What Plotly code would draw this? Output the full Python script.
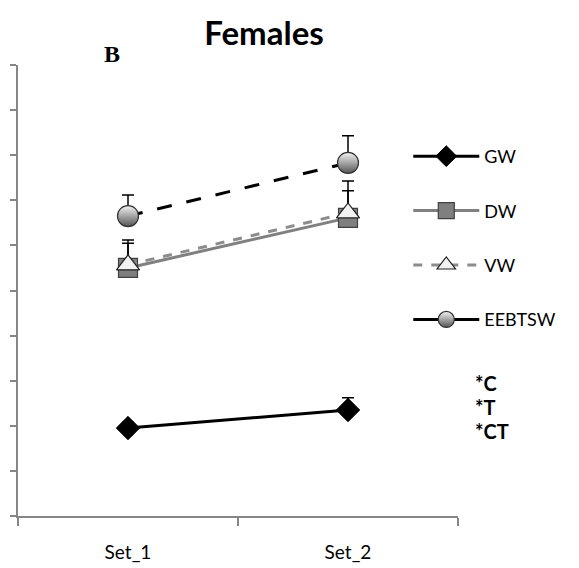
import plotly.graph_objects as go

categories = ["Set_1", "Set_2"]
series_names = ["GW", "DW", "VW", "EEBTSW"]
gw = [1.95, 2.35]
gw_err = [0.13, 0.27]
dw = [5.50, 6.61]
dw_err = [0.55, 0.60]
vw = [5.57, 6.72]
vw_err = [0.55, 0.71]
eeb = [6.65, 7.83]
eeb_err = [0.47, 0.60]
stat_labels = ["*C", "*T", "*CT"]

FONT = "Lato"
fig = go.Figure()

def err(a):
    return dict(type="data", symmetric=False, array=a, arrayminus=[0] * len(a),
                color="black", thickness=1.5, width=6)

styles = [
    dict(name="GW", y=gw, e=gw_err, line=dict(color="black", width=3),
         marker=dict(symbol="diamond", size=18, color="black", line=dict(color="black", width=1))),
    dict(name="DW", y=dw, e=dw_err, line=dict(color="#808080", width=3),
         marker=dict(symbol="square", size=19, color="#7f7f7f", line=dict(color="#404040", width=1.2))),
    dict(name="VW", y=vw, e=vw_err, line=dict(color="#8c8c8c", width=3, dash="dash"),
         marker=dict(symbol="triangle-up", size=20, color="#f2f2f2", line=dict(color="#202020", width=1.2))),
    dict(name="EEBTSW", y=eeb, e=eeb_err, line=dict(color="black", width=3, dash="longdash"),
         marker=dict(symbol="circle", size=21, color="#f4f4f4",
                     gradient=dict(type="vertical", color="#555555"),
                     line=dict(color="#303030", width=1.2))),
]

for i, s in enumerate(styles):
    fig.add_trace(go.Scatter(x=categories, y=s["y"], mode="lines+markers", name=s["name"],
                             line=s["line"], marker=s["marker"], error_y=err(s["e"]),
                             showlegend=False))
    leg_line = dict(s["line"])
    if s["name"] == "EEBTSW":
        leg_line["dash"] = "solid"
    fig.add_trace(go.Scatter(x=[None], y=[None], mode="lines+markers", name=s["name"],
                             line=leg_line, marker=s["marker"], legendgroup=s["name"],
                             showlegend=True))

fig.update_layout(
    width=579, height=568,
    margin=dict(l=18, r=121, t=65, b=52),
    paper_bgcolor="white", plot_bgcolor="white",
    title=dict(text="<b>Females</b>", x=264 / 579, xanchor="center", y=1 - 33 / 568, yanchor="middle",
               font=dict(family=FONT, size=33, color="black")),
    font=dict(family=FONT, size=18, color="black"),
    legend=dict(x=0.887, y=1 - (138 - 65) / 451, xanchor="left", yanchor="top",
                tracegroupgap=28, itemwidth=66, font=dict(family=FONT, size=18),
                bgcolor="rgba(0,0,0,0)"),
    showlegend=True,
)

fig.update_xaxes(type="category", range=[-0.5, 1.5], showline=True, linecolor="#868686", linewidth=1.5,
                 ticks="outside", tickson="boundaries", ticklen=8, tickcolor="#868686", tickwidth=1.5,
                 ticklabelstandoff=18, automargin=False,
                 showgrid=False, zeroline=False, tickfont=dict(family=FONT, size=19, color="black"))
fig.update_yaxes(range=[0, 10], dtick=1, showline=True, linecolor="#868686", linewidth=1.5,
                 ticks="outside", ticklen=6, tickcolor="#868686", tickwidth=1.5, automargin=False,
                 showticklabels=False, showgrid=False, zeroline=False)

fig.add_annotation(text="<b>B</b>", xref="paper", yref="paper", x=(112 - 18) / 440, y=(516 - 54) / 451,
                   yanchor="middle", xanchor="center",
                   showarrow=False, font=dict(family="Liberation Serif", size=24, color="black"))
for k, t in enumerate(stat_labels):
    fig.add_annotation(text="<b>" + t + "</b>", xref="paper", yref="paper",
                       x=(473 - 18) / 440, y=(516 - (383 + 24 * k)) / 451, xanchor="left",
                       yanchor="middle",
                       showarrow=False, font=dict(family=FONT, size=20, color="black"))

fig.write_html("out.html")
